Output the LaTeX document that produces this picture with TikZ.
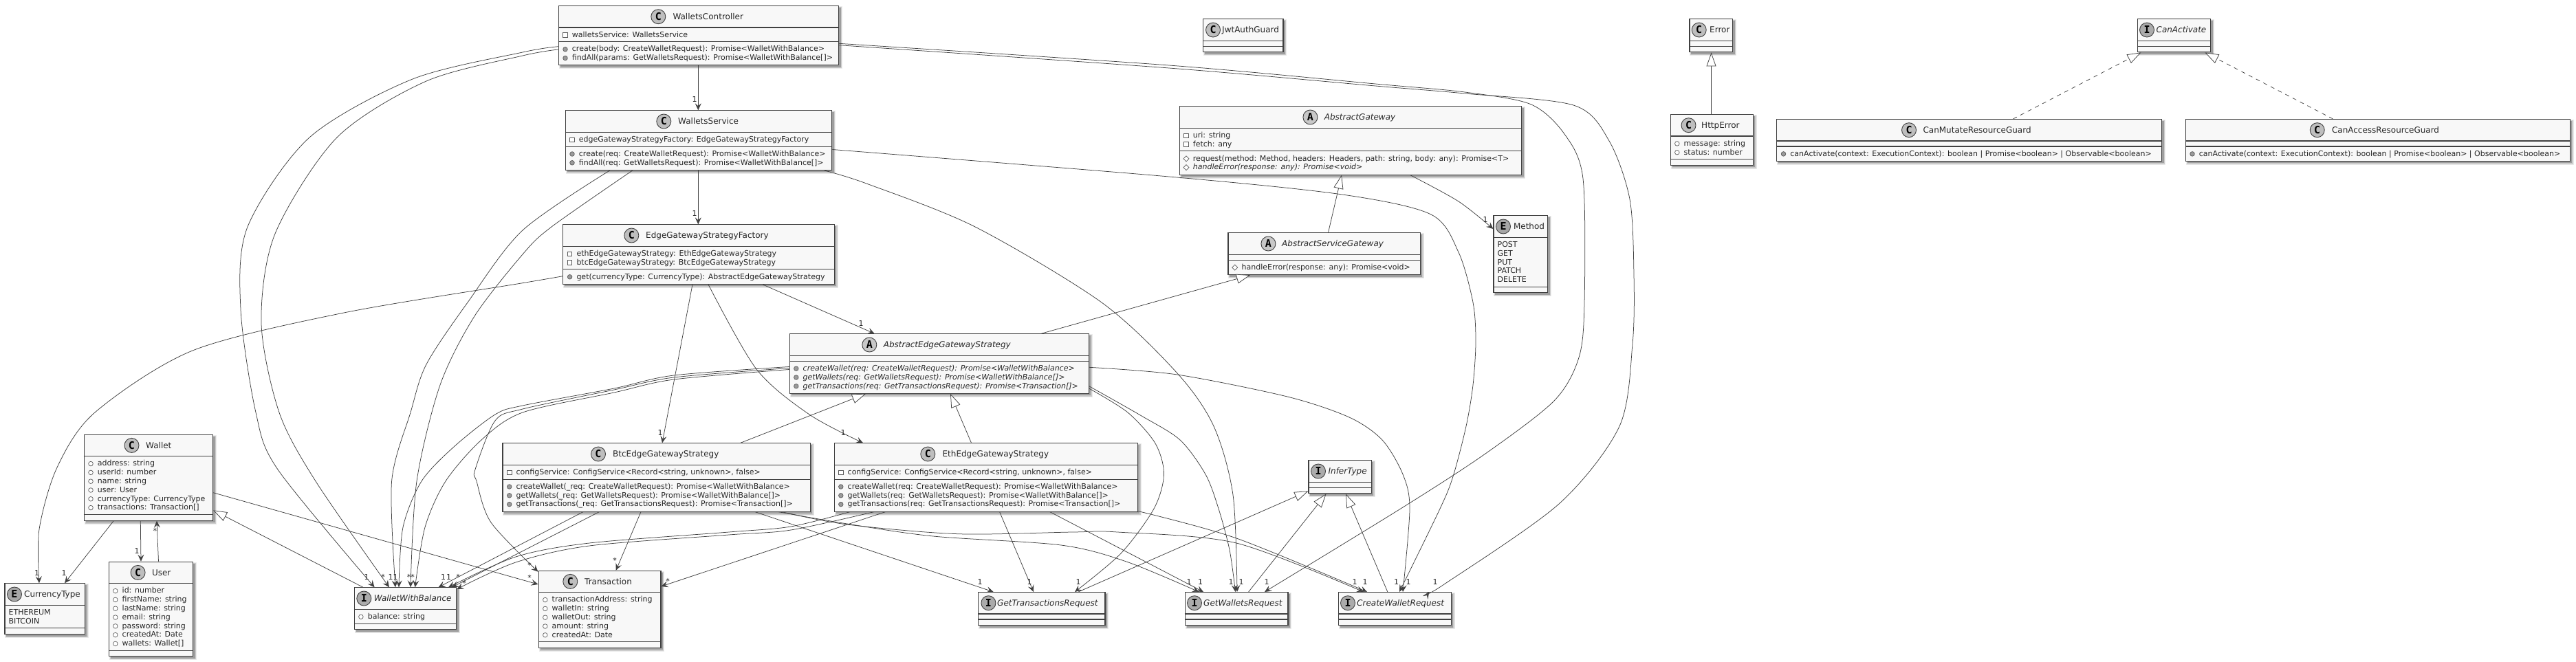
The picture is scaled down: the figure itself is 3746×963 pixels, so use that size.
\documentclass[tikz,border=0pt]{standalone}
\usepackage{fontspec}
\setmainfont{DejaVu Sans}
\setmonofont{DejaVu Sans Mono}
\usetikzlibrary{arrows.meta,calc}
\definecolor{umlline}{HTML}{404040}
\definecolor{umlfill}{HTML}{F8F8F8}
\definecolor{iconC}{HTML}{BEBEBE}
\definecolor{iconA}{HTML}{C8C8C8}
\definecolor{iconI}{HTML}{ABABAB}
\definecolor{iconE}{HTML}{A6A6A6}
\definecolor{memdot}{HTML}{9A9A9A}
\definecolor{memline}{HTML}{5A5A5A}
\tikzset{
  umlrect/.style={draw=umlline,fill=umlfill,line width=1.1pt,inner sep=0pt,anchor=north west},
  titletext/.style={inner sep=0pt,anchor=base west,font=\fontsize{12}{14}\selectfont,text=black!85},
  memtext/.style={inner sep=0pt,anchor=base west,font=\fontsize{11}{13}\selectfont,text=black!85},
  multtext/.style={inner sep=0pt,anchor=base,font=\fontsize{11}{13}\selectfont,text=black!85},
  iconcirc/.style={circle,draw=umlline,line width=.9pt,inner sep=0pt,minimum size=21pt,font=\fontsize{15}{15}\selectfont\ttfamily\bfseries,text=black},
  assoc/.style={draw=umlline,line width=0.75pt,-{Stealth[length=10pt,width=9pt,inset=4pt]}},
  inherit/.style={draw=umlline,line width=0.75pt,-{Triangle[open,fill=white,length=20pt,width=14pt,line width=0.75pt]}},
  realize/.style={inherit,dash pattern=on 6pt off 6pt},
  sep/.style={draw=umlline,line width=1.1pt},
}
\newcounter{memc}
% id, x0, x1, top, nA, nM, letter, circle x, title x, then {title}
\newcommand\umlbox[9]{%
  \pgfmathsetmacro\umlB{#4+32+(#5*12.8+8)+(#6*12.8+8)}%
  \pgfmathsetmacro\umlS{#4+32+(#5*12.8+8)}%
  \pgfmathsetmacro\umlW{#3-#2}%
  \pgfmathsetmacro\umlH{\umlB-#4}%
  \fill[black!8] ({#2+1},{#4+1}) rectangle ({#3+6},{\umlB+6});
  \fill[black!20] ({#2+2},{#4+2}) rectangle ({#3+5},{\umlB+5});
  \fill[black!38] ({#2+3},{#4+3}) rectangle ({#3+3.6},{\umlB+3.6});
  \node[umlrect,minimum width=\umlW pt,minimum height=\umlH pt] (#1) at (#2,#4) {};
  \draw[sep] (#2,{#4+32}) -- (#3,{#4+32});
  \draw[sep] (#2,\umlS) -- (#3,\umlS);
  \node[iconcirc,fill=icon#7] (#1-icon) at (#8,{#4+16.2}) {#7};
  \pgfmathsetmacro\umlTy{#4+20.6}%
  \pgfmathsetmacro\umlAy{#4+32+14.2}%
  \pgfmathsetmacro\umlMy{\umlS+14.2}%
  \pgfmathsetmacro\umlIx{#2+10.3}%
  \pgfmathsetmacro\umlTx{#2+20}%
  \pgfmathsetmacro\umlEx{#2+6}%
  \edef\umlId{#1}\edef\umlTitleX{#9}%
  \umlboxtitle}
\newcommand\umlboxtitle[1]{\node[titletext] (\umlId-title) at (\umlTitleX,\umlTy) {#1};}
\newcommand\drawicon[3]{%
  \pgfmathsetmacro\icy{#3-3.3}%
  \ifnum#1=0 \draw[memline,line width=.7pt,fill=white] ({#2-3.2},{\icy-3.2}) rectangle ({#2+3.2},{\icy+3.2});\fi
  \ifnum#1=1 \draw[memline,line width=.7pt,fill=memdot] (#2,\icy) circle (3.3);\fi
  \ifnum#1=2 \draw[memline,line width=.7pt,fill=white] (#2,\icy) circle (3.3);\fi
  \ifnum#1=3 \draw[memline,line width=.7pt,fill=white] ({#2-4},\icy) -- (#2,{\icy-4}) -- ({#2+4},\icy) -- (#2,{\icy+4}) -- cycle;\fi
}
% attribute row: icon code (0 private, 1 public method, 2 public field, 3 protected), text
\newcommand\A[2]{\drawicon{#1}{\umlIx}{\umlAy}\stepcounter{memc}\node[memtext] (mem\themem) at (\umlTx,\umlAy) {#2};\pgfmathsetmacro\umlAy{\umlAy+12.8}}
\newcommand\M[2]{\drawicon{#1}{\umlIx}{\umlMy}\stepcounter{memc}\node[memtext] (mem\themem) at (\umlTx,\umlMy) {#2};\pgfmathsetmacro\umlMy{\umlMy+12.8}}
\newcommand\En[1]{\stepcounter{memc}\node[memtext] (mem\themem) at (\umlEx,\umlAy) {#1};\pgfmathsetmacro\umlAy{\umlAy+12.8}}
\newcommand\themem{\arabic{memc}}
\newcounter{multc}
\newcommand\one[2]{\stepcounter{multc}\node[multtext] (mult\arabic{multc}) at (#1,{#2+4}) {1};}
\newcommand\many[2]{\stepcounter{multc}\node[multtext] (mult\arabic{multc}) at (#1,{#2+6.5}) {*};}
\begin{document}
\begin{tikzpicture}[x=1pt,y=-1pt]
\useasboundingbox (0,0) rectangle (3746,963);
% ---------- classes
\umlbox{wc}{811.7}{1219}{8}{1}{2}{C}{957.3}{978.3}{WalletsController}
\A{0}{walletsService: WalletsService}
\M{1}{create(body: CreateWalletRequest): Promise<WalletWithBalance>}
\M{1}{findAll(params: GetWalletsRequest): Promise<WalletWithBalance[]>}

\umlbox{ws}{821.7}{1209.3}{160.3}{1}{2}{C}{965.3}{986}{WalletsService}
\A{0}{edgeGatewayStrategyFactory: EdgeGatewayStrategyFactory}
\M{1}{create(req: CreateWalletRequest): Promise<WalletWithBalance>}
\M{1}{findAll(req: GetWalletsRequest): Promise<WalletWithBalance[]>}

\umlbox{egsf}{818.3}{1212.7}{326.3}{2}{1}{C}{918.3}{939}{EdgeGatewayStrategyFactory}
\A{0}{ethEdgeGatewayStrategy: EthEdgeGatewayStrategy}
\A{0}{btcEdgeGatewayStrategy: BtcEdgeGatewayStrategy}
\M{1}{get(currencyType: CurrencyType): AbstractEdgeGatewayStrategy}

\umlbox{aegs}{1147.5}{1582.5}{485.3}{0}{3}{A}{1264.3}{1284.6}{\itshape AbstractEdgeGatewayStrategy}
\M{1}{\itshape createWallet(req: CreateWalletRequest): Promise<WalletWithBalance>}
\M{1}{\itshape getWallets(req: GetWalletsRequest): Promise<WalletWithBalance[]>}
\M{1}{\itshape getTransactions(req: GetTransactionsRequest): Promise<Transaction[]>}

\umlbox{eegs}{1212.5}{1653.6}{644.3}{1}{3}{C}{1349.3}{1370.4}{EthEdgeGatewayStrategy}
\A{0}{configService: ConfigService<Record<string, unknown>, false>}
\M{1}{createWallet(req: CreateWalletRequest): Promise<WalletWithBalance>}
\M{1}{getWallets(req: GetWalletsRequest): Promise<WalletWithBalance[]>}
\M{1}{getTransactions(req: GetTransactionsRequest): Promise<Transaction[]>}

\umlbox{begs}{730.4}{1177.5}{644.3}{1}{3}{C}{870}{891}{BtcEdgeGatewayStrategy}
\A{0}{configService: ConfigService<Record<string, unknown>, false>}
\M{1}{createWallet(\_req: CreateWalletRequest): Promise<WalletWithBalance>}
\M{1}{getWallets(\_req: GetWalletsRequest): Promise<WalletWithBalance[]>}
\M{1}{getTransactions(\_req: GetTransactionsRequest): Promise<Transaction[]>}

\umlbox{wallet}{121.7}{309}{631.7}{6}{0}{C}{191.5}{212}{Wallet}
\A{2}{address: string}
\A{2}{userId: number}
\A{2}{name: string}
\A{2}{user: User}
\A{2}{currencyType: CurrencyType}
\A{2}{transactions: Transaction[]}

\umlbox{user}{157.5}{280}{816.7}{7}{0}{C}{200.6}{220.8}{User}
\A{2}{id: number}
\A{2}{firstName: string}
\A{2}{lastName: string}
\A{2}{email: string}
\A{2}{password: string}
\A{2}{createdAt: Date}
\A{2}{wallets: Wallet[]}

\umlbox{ctype}{6.4}{122.6}{848.3}{2}{0}{E}{21}{35}{CurrencyType}
\En{ETHEREUM}
\En{BITCOIN}

\umlbox{wwb}{514.6}{663.2}{854.3}{1}{0}{I}{529.3}{543.6}{\itshape WalletWithBalance}
\A{2}{balance: string}

\umlbox{tx}{782.5}{960.4}{829.7}{5}{0}{C}{829.3}{850}{Transaction}
\A{2}{transactionAddress: string}
\A{2}{walletIn: string}
\A{2}{walletOut: string}
\A{2}{amount: string}
\A{2}{createdAt: Date}

\umlbox{gtr}{1422}{1606.4}{861}{0}{0}{I}{1437.4}{1450}{\itshape GetTransactionsRequest}
\umlbox{gwr}{1722.5}{1872.4}{861}{0}{0}{I}{1737}{1750}{\itshape GetWalletsRequest}
\umlbox{cwr}{1945.7}{2109.6}{861}{0}{0}{I}{1960}{1973}{\itshape CreateWalletRequest}
\umlbox{infer}{1902.4}{1993.5}{669.3}{0}{0}{I}{1917}{1931.4}{\itshape InferType}
\umlbox{jwt}{1749.2}{1865.4}{27.3}{0}{0}{C}{1764}{1777}{JwtAuthGuard}

\umlbox{ag}{1714.7}{2212.2}{154.3}{2}{2}{A}{1905.4}{1925.6}{\itshape AbstractGateway}
\A{0}{uri: string}
\A{0}{fetch: any}
\M{3}{request(method: Method, headers: Headers, path: string, body: any): Promise<T>}
\M{3}{\itshape handleError(response: any): Promise<void>}

\umlbox{asg}{1785.4}{2064.5}{338.3}{0}{1}{A}{1844.4}{1864}{\itshape AbstractServiceGateway}
\M{3}{handleError(response: any): Promise<void>}

\umlbox{method}{2171.4}{2250}{313.3}{5}{0}{E}{2186}{2200.8}{Method}
\En{POST}
\En{GET}
\En{PUT}
\En{PATCH}
\En{DELETE}

\umlbox{err}{2456.4}{2519}{27.3}{0}{0}{C}{2470.7}{2486}{Error}
\umlbox{http}{2428.5}{2548.5}{166}{2}{0}{C}{2455.5}{2474}{HttpError}
\A{2}{message: string}
\A{2}{status: number}

\umlbox{canact}{3107.5}{3214}{27.3}{0}{0}{I}{3122}{3135.4}{\itshape CanActivate}
\umlbox{canmut}{2583.2}{3143}{173}{0}{1}{C}{2776}{2796.3}{CanMutateResourceGuard}
\M{1}{canActivate(context: ExecutionContext): boolean | Promise<boolean> | Observable<boolean>}
\umlbox{canacc}{3177.7}{3736.7}{173}{0}{1}{C}{3369.7}{3390.8}{CanAccessResourceGuard}
\M{1}{canActivate(context: ExecutionContext): boolean | Promise<boolean> | Observable<boolean>}

% ---------- inheritance
\draw[inherit] (2488.5,0 |- http.north) -- (2488.5,0 |- err.south);
\draw[realize] (2927.4,0 |- canmut.north) -- (3113.4,0 |- canact.south);
\draw[realize] (3392.5,0 |- canacc.north) -- (3206.4,0 |- canact.south);
\draw[inherit] (1931.5,0 |- asg.north) -- (1951,0 |- ag.south);
\draw[inherit] (1514,0 |- aegs.north) -- (1818,0 |- asg.south);
\draw[inherit] (1076.8,0 |- begs.north) -- (1259,0 |- aegs.south);
\draw[inherit] (1412.5,0 |- eegs.north) -- (1382,0 |- aegs.south);
\draw[inherit] (528,0 |- wwb.north) -- (wallet.east |- 0,742.3);
\draw[inherit] (1568,0 |- gtr.north) -- (infer.west |- 0,714.3);
\draw[inherit] (1815.6,0 |- gwr.north) -- (1928.5,0 |- infer.south);
\draw[inherit] (2017.8,0 |- cwr.north) -- (1957,0 |- infer.south);

% ---------- straight associations
\draw[assoc] (1015.3,0 |- wc.south) -- (1015.3,0 |- ws.north);
\draw[assoc] (1015.3,0 |- ws.south) -- (1015.3,0 |- egsf.north);
\draw[assoc] (1109,0 |- egsf.south) -- (1271.7,0 |- aegs.north);
\draw[assoc] (1007,0 |- egsf.south) -- (963,0 |- begs.north);
\draw[assoc] (165.3,0 |- wallet.south) -- (94,0 |- ctype.north);
\draw[assoc] (204.3,0 |- wallet.south) -- (205,0 |- user.north);
\draw[assoc] (230.5,0 |- user.north) -- (228,0 |- wallet.south);
\draw[assoc] (wallet.east |- 0,716.7) -- (tx.west |- 0,850);
\draw[assoc] (848,0 |- begs.south) -- (637.5,0 |- wwb.north);
\draw[assoc] (871.4,0 |- begs.south) -- (657,0 |- wwb.north);
\draw[assoc] (932,0 |- begs.south) -- (895.7,0 |- tx.north);
\draw[assoc] (1287.5,0 |- eegs.south) -- (tx.east |- 0,853);
\draw[assoc] (1098,0 |- begs.south) -- (1444.6,0 |- gtr.north);
\draw[assoc] (1453.6,0 |- eegs.south) -- (1503,0 |- gtr.north);
\draw[assoc] (1526.7,0 |- eegs.south) -- (1750,0 |- gwr.north);

% ---------- curved associations
\draw[assoc] plot[smooth] coordinates {(2050.6,0 |- ag.south) (2121,293) (method.west |- 0,333)};
\draw[assoc] plot[smooth] coordinates {(1030,0 |- egsf.south) (1100,537) (1177,603) (1255,0 |- eegs.north)};
\draw[assoc] plot[smooth] coordinates {(egsf.west |- 0,401.7) (760,411.7) (500,455) (280,510) (138,600) (83,680) (57,770) (57,0 |- ctype.north)};
% WalletsController
\draw[assoc] plot[smooth] coordinates {(wc.west |- 0,67.7) (760,76) (600,115) (450,200) (360,330) (350,450) (372,600) (404,683) (544.6,0 |- wwb.north)};
\draw[assoc] plot[smooth] coordinates {(wc.west |- 0,72) (760,81) (620,118) (490,200) (400,340) (380,470) (406,600) (459,700) (566,0 |- wwb.north)};
\draw[assoc] plot[smooth] coordinates {(wc.east |- 0,63.3) (1700,95) (2000,122) (2130,134) (2226,151.7) (2275,195) (2302,260) (2304,440) (2296,520) (2260,583) (2160,660) (2040,738) (1839,0 |- gwr.north)};
\draw[assoc] plot[smooth] coordinates {(wc.east |- 0,65.7) (1700,99) (2000,125) (2130,136) (2289,153.3) (2340,205) (2370,290) (2376,400) (2374,500) (2355,620) (2267,733) (2100,850) (2078,0 |- cwr.north)};
% WalletsService
\draw[assoc] plot[smooth] coordinates {(887,0 |- ws.south) (760,335) (680,440) (620,530) (597,600) (569.6,700) (575,0 |- wwb.north)};
\draw[assoc] plot[smooth] coordinates {(920,0 |- ws.south) (802,330) (760,370) (690,460) (640,560) (606,700) (597,0 |- wwb.north)};
\draw[assoc] plot[smooth] coordinates {(1198,0 |- ws.south) (1260,267) (1418,330) (1602,440) (1712,543) (1765,620) (1793,720) (1799,0 |- gwr.north)};
\draw[assoc] plot[smooth] coordinates {(ws.east |- 0,217.5) (1700,257) (1952,283) (2081,312) (2121,367) (2142,440) (2146,497) (2142,560) (2132,620) (2113,693) (2094,740) (2035,0 |- cwr.north)};
% AbstractEdgeGatewayStrategy
\draw[assoc] plot[smooth] coordinates {(aegs.west |- 0,533.5) (980,546) (893,565) (760,590) (720,603) (660,650) (613,700) (586,767) (580,0 |- wwb.north)};
\draw[assoc] plot[smooth] coordinates {(aegs.west |- 0,537.5) (980,552) (893,571) (760,600) (700,640) (648,700) (618,767) (603.6,0 |- wwb.north)};
\draw[assoc] plot[smooth] coordinates {(aegs.west |- 0,535.5) (980,549) (893,567) (760,595) (720,612) (691,683) (693,700) (714,760) (tx.west |- 0,831.7)};
\draw[assoc] plot[smooth] coordinates {(aegs.east |- 0,561.7) (1660,605) (1716,640) (1753,690) (1772,740) (1788,800) (1796.5,0 |- gwr.north)};
\draw[assoc] plot[smooth] coordinates {(aegs.east |- 0,565) (1640,600) (1680,645) (1692.5,690) (1678,740) (1630,805) (1563,0 |- gtr.north)};
\draw[assoc] plot[smooth] coordinates {(aegs.east |- 0,534.3) (1712,545) (1872,577) (1962,607) (2010,640) (2040,690) (2050,740) (2040,0 |- cwr.north)};
% BtcEdgeGatewayStrategy
\draw[assoc] plot[smooth] coordinates {(1137,0 |- begs.south) (1232,763) (1393,776.7) (1560,774) (1625,774) (1798,790) (1982.7,0 |- cwr.north)};
\draw[assoc] plot[smooth] coordinates {(1132,0 |- begs.south) (1232,762) (1357,780) (1543,793) (1638,817) (1743.5,0 |- gwr.north)};
% EthEdgeGatewayStrategy
\draw[assoc] plot[smooth] coordinates {(1236,0 |- eegs.south) (1150,766) (1060,774) (857,790) (750,810) (652,0 |- wwb.north)};
\draw[assoc] plot[smooth] coordinates {(1271,0 |- eegs.south) (1150,771) (1060,778) (857,794) (750,818) (wwb.east |- 0,857)};
\draw[assoc] plot[smooth] coordinates {(eegs.east |- 0,743.5) (1798,783) (1988,0 |- cwr.north)};

% ---------- multiplicities
\one{1010}{145}
\one{1010}{310}
\one{1252}{470}
\one{960}{629}
\one{1226}{629}
\one{2160}{319}
\one{93}{833}
\one{53.7}{833}
\one{199}{801}
\many{225.4}{770}
\one{533}{839}
\many{557}{836.7}
\one{568}{839}
\one{575}{839}
\many{594.6}{836.7}
\many{600}{836.7}
\one{644.6}{839}
\one{652.5}{839}
\many{666}{836.7}
\many{675}{845.7}
\many{770}{820}
\many{770}{838}
\many{894}{812.7}
\many{971}{842.7}
\one{1425}{846}
\one{1497}{846}
\one{1568}{846}
\one{1729}{846}
\one{1745.5}{846}
\one{1790}{846}
\one{1805}{846}
\one{1842}{846}
\one{1970}{846}
\one{1985}{846}
\one{2030.5}{846}
\one{2048}{846}
\one{2087}{846}
\end{tikzpicture}
\end{document}
